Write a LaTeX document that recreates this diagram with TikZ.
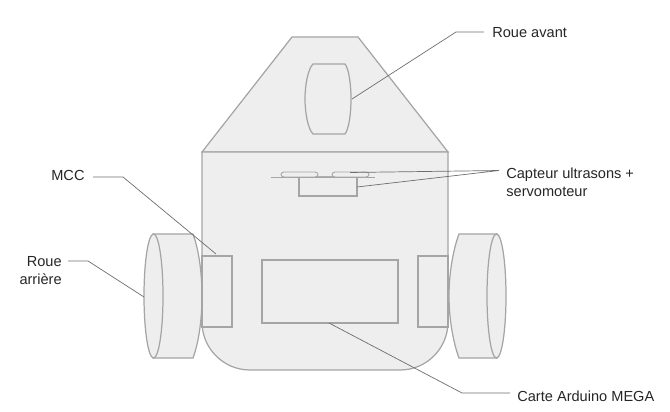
\documentclass[tikz,border=0pt]{standalone}
\usepackage{fontspec}
\setmainfont{Liberation Sans}
\usetikzlibrary{positioning,calc}
\definecolor{PartFill}{RGB}{238,238,238}
\definecolor{PartLine}{RGB}{165,165,165}
\definecolor{LeadLine}{RGB}{110,110,110}
\tikzset{
	part/.style={draw=PartLine,fill=PartFill,line width=0.7pt},
	thinpart/.style={part,line width=0.5pt},
	lead/.style={draw=LeadLine,line width=0.4pt},
	lbl/.style={inner sep=0pt,font=\fontsize{8.3pt}{10.2pt}\selectfont,text=black!85},
}
\begin{document}
\begin{tikzpicture}[x=0.02cm,y=-0.02cm]
	\useasboundingbox (0,0) rectangle (670,412);
	% chassis
	\draw[part] (292,37)--(358,37)--(448,152)--(202,152)--cycle;
	\draw[part] (202,152)--(448,152)--(448,322) arc[start angle=0,end angle=90,radius=48]
		--(250,370) arc[start angle=90,end angle=180,radius=48]--cycle;
	% wheels
	\draw[part] (313,64)--(345,64) .. controls (349,69) and (351,85) .. (351,99)
		.. controls (351,113) and (349,129) .. (345,134)--(313,134)
		.. controls (308,129) and (305,113) .. (305,99)
		.. controls (305,85) and (308,69) .. (313,64)--cycle;
	\draw[part] (153,234)--(193,234) .. controls (199,250) and (202,274) .. (202,296)
		.. controls (202,318) and (199,342) .. (193,358)--(153,358)--cycle;
	\draw[part] (153.5,296) ellipse[x radius=9.5,y radius=62];
	\draw[part] (497,234)--(459,234) .. controls (453,250) and (449,274) .. (449,296)
		.. controls (449,318) and (453,342) .. (459,358)--(497,358)--cycle;
	\draw[part] (496.5,296) ellipse[x radius=9.5,y radius=62];
	% boards
	\draw[part] (202,256) rectangle (232,327);
	\draw[part] (418,256) rectangle (448,327);
	\draw[part] (262,260) rectangle (398,323);
	% sensor
	\draw[part] (299,177) rectangle (357,196);
	\draw[thinpart] (271,177)--(375,177);
	\draw[thinpart] (284,172)--(315,172) .. controls (319,172.5) and (319,176.5) .. (315,177)--(284,177) .. controls (280,176.5) and (280,172.5) .. (284,172)--cycle;
	\draw[thinpart] (335,172)--(366,172) .. controls (370,172.5) and (370,176.5) .. (366,177)--(335,177) .. controls (331,176.5) and (331,172.5) .. (335,172)--cycle;
	% labels
	\node[lbl,anchor=west] (avant) at (492,32.5) {Roue avant};
	\node[lbl,anchor=west,align=left] (capteur) at (506,182) {Capteur ultrasons +\\servomoteur};
	\node[lbl,anchor=west] (mcc) at (51,175.5) {MCC};
	\node[lbl,anchor=east,align=right] (arriere) at (62,271) {Roue\\arrière};
	\node[lbl,anchor=west] (carte) at (517,396.5) {Carte Arduino MEGA};
	% leaders
	\coordinate (frontw) at (352,99);
	\coordinate (capsule) at (350,172.5);
	\coordinate (servo) at (357,187);
	\coordinate (capt) at (499,170.5);
	\coordinate (mot) at (216,254);
	\coordinate (rearw) at (144,297);
	\coordinate (mega) at (329,323);
	\coordinate (avantend) at (484,32);
	\coordinate (mccend) at (93,177);
	\coordinate (arriereend) at (68,261);
	\coordinate (carteend) at (510,393);
	\draw[lead] (frontw)--(456,32)--(avantend);
	\draw[lead] (capsule)--(capt)--(servo);
	\draw[lead] (mccend)--(123,177)--(mot);
	\draw[lead] (rearw)--(88,261)--(arriereend);
	\draw[lead] (mega)--(462,393)--(carteend);
\end{tikzpicture}
\end{document}
